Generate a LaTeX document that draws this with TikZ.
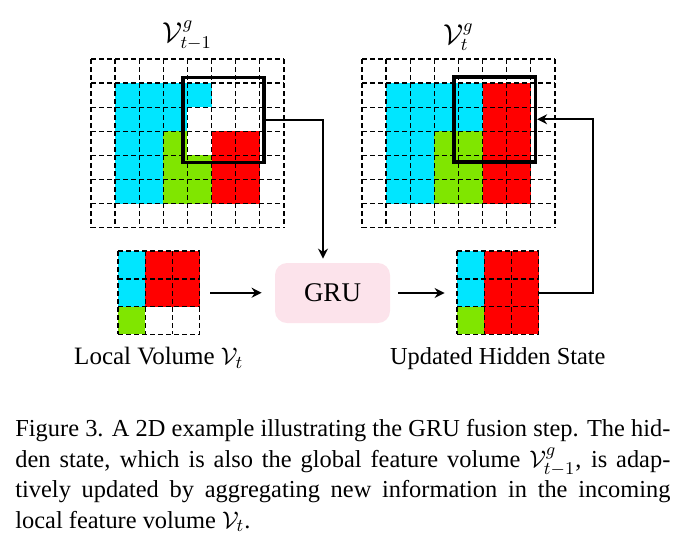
\documentclass[tikz,border=0pt]{standalone}
\usepackage{amsmath}
\usepackage{fontspec}
\setmainfont{Liberation Serif}
\usetikzlibrary{arrows.meta, positioning, calc}
\definecolor{cellcyan}{RGB}{0,230,255}
\definecolor{cellgreen}{RGB}{128,230,0}
\definecolor{cellred}{RGB}{255,0,0}
\definecolor{grupink}{RGB}{252,227,235}

\begin{document}
\begin{tikzpicture}[
    x=0.5pt, y=-0.5pt,
    every node/.style = {font=\fontsize{12.5}{15}\selectfont},
    gridline/.style   = {dash pattern=on 2.4pt off 1.6pt, line width=0.7pt},
    volbox/.style     = {inner sep=0pt},
    winbox/.style     = {draw, line width=1.8pt, inner sep=0pt,
                         minimum width=40.5pt, minimum height=42.5pt},
    grubox/.style     = {fill=grupink, rounded corners=6pt,
                         minimum width=57.5pt, minimum height=30pt,
                         font=\fontsize{13.5}{16}\selectfont},
    arr/.style        = {-{Stealth[length=5pt, width=5pt]}, line width=0.9pt},
]
\useasboundingbox (0,0) rectangle (684,543);

% Global volume V^g_{t-1}
\begin{scope}[shift={(91,59)}, x=12.05pt, y=-12.05pt]
  \fill[cellcyan]  (1,1) rectangle (5,2);
  \fill[cellcyan]  (1,2) rectangle (4,3);
  \fill[cellcyan]  (1,3) rectangle (3,6);
  \fill[cellgreen] (3,3) rectangle (4,4);
  \fill[cellgreen] (3,4) rectangle (5,6);
  \fill[cellred]   (5,3) rectangle (7,6);
  \foreach \i in {0,...,8} \draw[gridline] (\i,0) -- (\i,7);
  \foreach \j in {0,...,7} \draw[gridline] (0,\j) -- (8,\j);
  \node[volbox, minimum width=96.4pt, minimum height=84.35pt] (prevvol) at (4,3.5) {};
  \node[winbox] (prevwin) at (5.51,2.53) {};
\end{scope}
\node[inner sep=0pt, above=4pt of prevvol, font=\fontsize{13.5}{16}\selectfont] (prevtitle) {$\mathcal{V}^{g}_{t-1}$};

% Global volume V^g_t
\begin{scope}[shift={(362,59)}, x=12.05pt, y=-12.05pt]
  \fill[cellcyan]  (1,1) rectangle (5,3);
  \fill[cellcyan]  (1,3) rectangle (3,6);
  \fill[cellgreen] (3,3) rectangle (5,6);
  \fill[cellred]   (5,1) rectangle (7,6);
  \foreach \i in {0,...,8} \draw[gridline] (\i,0) -- (\i,7);
  \foreach \j in {0,...,7} \draw[gridline] (0,\j) -- (8,\j);
  \node[volbox, minimum width=96.4pt, minimum height=84.35pt] (curvol) at (4,3.5) {};
  \node[winbox] (curwin) at (5.51,2.5) {};
\end{scope}
\node[inner sep=0pt, above=4pt of curvol, font=\fontsize{13.5}{16}\selectfont] (curtitle) {$\mathcal{V}^{g}_{t}$};

% Local volume
\begin{scope}[shift={(118,251)}, x=13.6pt, y=-13.9pt]
  \fill[cellcyan]  (0,0) rectangle (1,2);
  \fill[cellgreen] (0,2) rectangle (1,3);
  \fill[cellred]   (1,0) rectangle (3,2);
  \foreach \i in {0,...,3} \draw[gridline] (\i,0) -- (\i,3);
  \foreach \j in {0,...,3} \draw[gridline] (0,\j) -- (3,\j);
  \node[volbox, minimum width=40.8pt, minimum height=41.7pt] (loc) at (1.5,1.5) {};
\end{scope}
\node[inner sep=0pt, below=6pt of loc] (loclabel) {Local Volume $\mathcal{V}_t$};

% Updated hidden state
\begin{scope}[shift={(457,251)}, x=13.6pt, y=-13.9pt]
  \fill[cellcyan]  (0,0) rectangle (1,2);
  \fill[cellgreen] (0,2) rectangle (1,3);
  \fill[cellred]   (1,0) rectangle (3,3);
  \foreach \i in {0,...,3} \draw[gridline] (\i,0) -- (\i,3);
  \foreach \j in {0,...,3} \draw[gridline] (0,\j) -- (3,\j);
  \node[volbox, minimum width=40.8pt, minimum height=41.7pt] (updvol) at (1.5,1.5) {};
\end{scope}
\node[inner sep=0pt, below=6pt of updvol, font=\fontsize{12.2}{15}\selectfont] (updlabel) {Updated Hidden State};

% GRU
\node[grubox] (gru) at (332.5,293) {GRU};

% Connectors
\draw[arr, shorten <=5pt, shorten >=6.5pt] (loc.east) -- (loc.east -| gru.west);
\draw[arr, shorten <=4pt, shorten >=6pt] (gru.east) -- (gru.east -| updvol.west);
\draw[arr, shorten >=2pt] (prevwin.east) -| ($(gru.north)+(-9.5,0)$);
\draw[arr] (updvol.east) -- ++(54,0) |- (curwin.east);

% Caption
\node[anchor=north west, inner sep=0pt, text width=327.5pt, align=justify,
      font=\fontsize{12.2}{15.3}\selectfont] (caption) at (15,419)
  {\hyphenpenalty=10000 Figure 3. A 2D example illustrating the GRU fusion step. The hid-\linebreak
   den state, which is also the global feature volume $\mathcal{V}^g_{t-1}$, is adap-\linebreak
   tively updated by aggregating new information in the incoming\linebreak
   local feature volume $\mathcal{V}_t$.};

\end{tikzpicture}
\end{document}
